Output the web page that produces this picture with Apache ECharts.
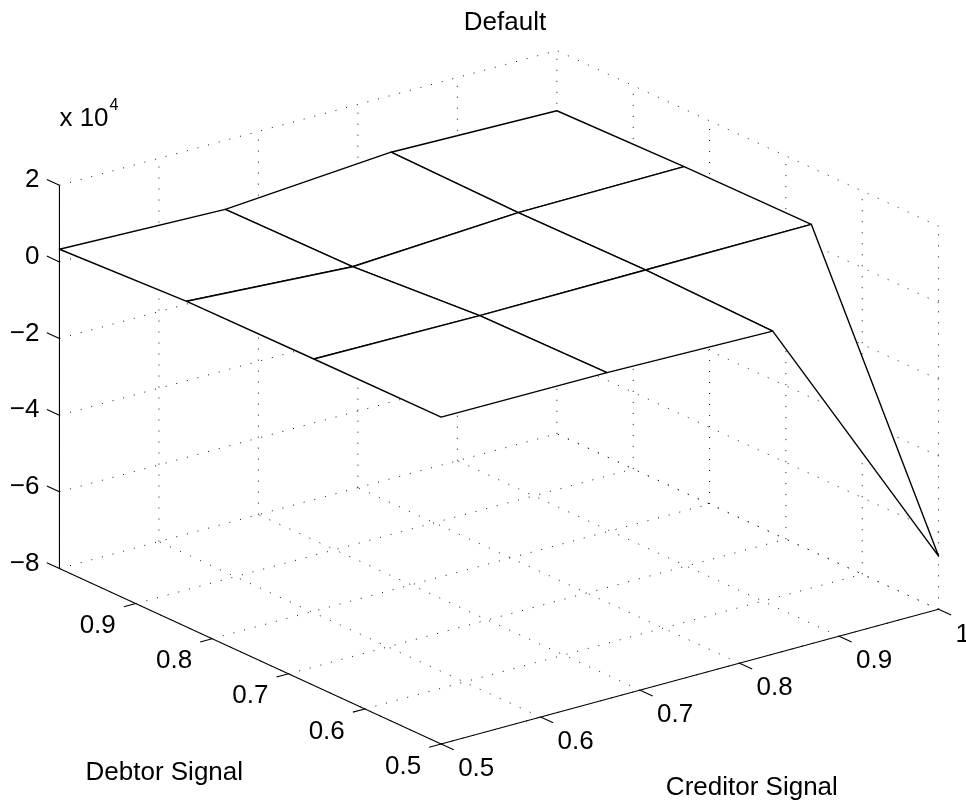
<!DOCTYPE html>
<html>
<head>
<meta charset="utf-8">
<title>Default</title>
<script src="https://cdn.jsdelivr.net/npm/echarts@6.0.0/dist/echarts.min.js"></script>
<style>
  html, body { margin: 0; padding: 0; background: #fff; }
  #chart { width: 966px; height: 802px; }
</style>
</head>
<body>
<div id="chart"></div>
<script>
// surface samples, values in units of 10^4
const debtorSignal = [0.5, 0.6667, 0.8333, 1.0];
const creditorSignal = [0.5, 0.6667, 0.8333, 1.0];
// one row per debtor value, one column per creditor value
const defaultDebtor050 = [0.53, 0.52, 0.43, -6.61];
const defaultDebtor067 = [0.52, 0.48, 0.50, 0.52];
const defaultDebtor083 = [0.50, 0.23, 0.47, 0.50];
const defaultDebtor100 = [0.33, 0.20, 0.52, 0.43];
const defaultValues = [defaultDebtor050, defaultDebtor067, defaultDebtor083, defaultDebtor100];

const debtorTicks = [0.5, 0.6, 0.7, 0.8, 0.9];
const debtorTickLabels = ['0.5', '0.6', '0.7', '0.8', '0.9'];
const creditorTicks = [0.5, 0.6, 0.7, 0.8, 0.9, 1];
const creditorTickLabels = ['0.5', '0.6', '0.7', '0.8', '0.9', '1'];
const zTicks = [-8, -6, -4, -2, 0, 2];
const zTickLabels = ['\u22128', '\u22126', '\u22124', '\u22122', '0', '2'];

const debtorRange = [0.5, 1];
const creditorRange = [0.5, 1];
const zRange = [-8, 2];

// matlab style orthographic view
const AZ = -37.5 * Math.PI / 180;
const EL = 30 * Math.PI / 180;
const W = 966, H = 802;
const CX = 499, CY = 397.3;   // pixel position of the box centre
const SX = 627, SY = 442.5;   // stretch-to-fill scales

const FONT = '"Liberation Sans", Arial, Helvetica, sans-serif';
const FS = 26;

function norm(v, r) {
  return (v - r[0]) / (r[1] - r[0]) - 0.5;
}

// point is [creditor, debtor, z]
function project(p) {
  const u = norm(p[0], creditorRange);
  const v = norm(p[1], debtorRange);
  const w = norm(p[2], zRange);
  const sx = u * Math.cos(AZ) + v * Math.sin(AZ);
  const sy = -u * Math.sin(AZ) * Math.sin(EL) + v * Math.cos(AZ) * Math.sin(EL) + w * Math.cos(EL);
  return [sx, sy];
}

function depth(p) {
  const u = norm(p[0], creditorRange);
  const v = norm(p[1], debtorRange);
  return -u * Math.sin(AZ) + v * Math.cos(AZ);
}

// dotted grid on the two back walls and the floor
const gridSegments = [];
const cMin = creditorRange[0], cMax = creditorRange[1];
const dMin = debtorRange[0], dMax = debtorRange[1];
const zMin = zRange[0], zMax = zRange[1];
creditorTicks.forEach(c => {
  gridSegments.push([[c, dMax, zMin], [c, dMax, zMax]]);
  gridSegments.push([[c, dMin, zMin], [c, dMax, zMin]]);
});
debtorTicks.forEach(d => {
  gridSegments.push([[cMax, d, zMin], [cMax, d, zMax]]);
  gridSegments.push([[cMin, d, zMin], [cMax, d, zMin]]);
});
zTicks.forEach(z => {
  gridSegments.push([[cMin, dMax, z], [cMax, dMax, z]]);
  gridSegments.push([[cMax, dMin, z], [cMax, dMax, z]]);
});

// solid axes with ticks
const axisSegments = [
  [[cMin, dMax, zMin], [cMin, dMax, zMax]],
  [[cMin, dMin, zMin], [cMin, dMax, zMin]],
  [[cMin, dMin, zMin], [cMax, dMin, zMin]]
];
zTicks.forEach(z => axisSegments.push([[cMin, dMax, z], [cMin, dMax + 0.0165, z]]));
debtorTicks.forEach(d => axisSegments.push([[cMin, d, zMin], [cMin - 0.012, d, zMin]]));
creditorTicks.forEach(c => axisSegments.push([[c, dMin, zMin], [c, dMin - 0.0165, zMin]]));

// surface patches, far ones first
const quads = [];
for (let i = 0; i < debtorSignal.length - 1; i++) {
  for (let j = 0; j < creditorSignal.length - 1; j++) {
    const pts = [[i, j], [i, j + 1], [i + 1, j + 1], [i + 1, j]].map(
      ([a, b]) => [creditorSignal[b], debtorSignal[a], defaultValues[a][b]]
    );
    const centre = [
      (creditorSignal[j] + creditorSignal[j + 1]) / 2,
      (debtorSignal[i] + debtorSignal[i + 1]) / 2,
      0
    ];
    quads.push({ pts: pts, depth: depth(centre) });
  }
}
quads.sort((a, b) => b.depth - a.depth);

function segLines(api, segs, style) {
  return segs.map(s => {
    const a = api.coord(project(s[0]));
    const b = api.coord(project(s[1]));
    return {
      type: 'line',
      shape: { x1: a[0], y1: a[1], x2: b[0], y2: b[1] },
      style: style
    };
  });
}

function text(x, y, str, align, vAlign, size) {
  return {
    type: 'text',
    x: x,
    y: y,
    style: {
      text: str,
      font: (size || FS) + 'px ' + FONT,
      fill: '#000',
      align: align,
      textAlign: align,
      verticalAlign: vAlign,
      textVerticalAlign: vAlign
    }
  };
}

const chart = echarts.init(document.getElementById('chart'));

chart.setOption({
  animation: false,
  backgroundColor: '#fff',
  grid: { left: 0, top: 0, right: 0, bottom: 0 },
  xAxis: { type: 'value', min: -CX / SX, max: (W - CX) / SX, show: false },
  yAxis: { type: 'value', min: -(H - CY) / SY, max: CY / SY, show: false },
  series: [
    {
      name: 'grid',
      type: 'custom',
      silent: true,
      data: [[0, 0]],
      renderItem: function (params, api) {
        return {
          type: 'group',
          children: segLines(api, gridSegments, {
            stroke: '#111', lineWidth: 1, lineDash: [1, 10]
          })
        };
      }
    },
    {
      name: 'Default',
      type: 'custom',
      silent: true,
      data: [[0, 0]],
      renderItem: function (params, api) {
        return {
          type: 'group',
          children: quads.map(q => ({
            type: 'polygon',
            shape: { points: q.pts.map(p => api.coord(project(p))) },
            style: { fill: '#fff', stroke: '#000', lineWidth: 1.4, lineJoin: 'round' }
          }))
        };
      }
    },
    {
      name: 'axes',
      type: 'custom',
      silent: true,
      data: [[0, 0]],
      renderItem: function (params, api) {
        return {
          type: 'group',
          children: segLines(api, axisSegments, { stroke: '#000', lineWidth: 1.1 })
        };
      }
    },
    {
      name: 'labels',
      type: 'custom',
      silent: true,
      data: [[0, 0]],
      renderItem: function (params, api) {
        const out = [];
        zTicks.forEach((z, i) => {
          const p = api.coord(project([cMin, dMax, z]));
          out.push(text(p[0] - 20, p[1] - 5, zTickLabels[i], 'right', 'middle'));
        });
        debtorTicks.forEach((d, i) => {
          const p = api.coord(project([cMin, d, zMin]));
          out.push(text(p[0] - 20, p[1] + 22.5, debtorTickLabels[i], 'right', 'middle'));
        });
        creditorTicks.forEach((c, i) => {
          const p = api.coord(project([c, dMin, zMin]));
          out.push(text(p[0] + 17, p[1] + 25, creditorTickLabels[i], 'left', 'middle'));
        });
        const top = api.coord(project([cMin, dMax, zMax]));
        out.push(text(top[0], top[1] - 66, 'x 10', 'left', 'middle'));
        out.push(text(top[0] + 50, top[1] - 80, '4', 'left', 'middle', 16));
        const dMid = api.coord(project([cMin, (dMin + dMax) / 2, zMin]));
        out.push(text(dMid[0] - 86, dMid[1] + 117, 'Debtor Signal', 'center', 'middle'));
        const cMid = api.coord(project([(cMin + cMax) / 2, dMin, zMin]));
        out.push(text(cMid[0] + 62, cMid[1] + 111, 'Creditor Signal', 'center', 'middle'));
        out.push(text(505, 23, 'Default', 'center', 'middle'));
        return { type: 'group', children: out };
      }
    }
  ]
});

window.addEventListener('resize', () => chart.resize());
</script>
</body>
</html>
